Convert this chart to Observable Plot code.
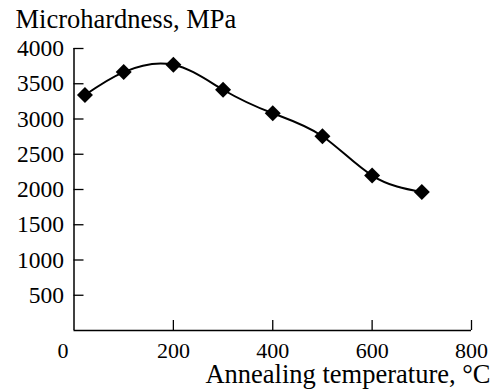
<!DOCTYPE html>
<html>
<head>
<meta charset="utf-8">
<script src="https://cdn.jsdelivr.net/npm/d3@7"></script>
<script src="https://cdn.jsdelivr.net/npm/@observablehq/plot@0.6"></script>
<style>
  html, body { margin: 0; padding: 0; background: #fff; }
  svg { font-family: "Liberation Serif", "DejaVu Serif", serif; }
</style>
</head>
<body>
<div id="chart"></div>
<script>
const temperature = [22, 100, 200, 300, 400, 500, 600, 700];
const hardness = [3340, 3666, 3770, 3415, 3081, 2756, 2198, 1963];
const xTicks = [200, 400, 600, 800];
const yTicks = [500, 1000, 1500, 2000, 2500, 3000, 3500, 4000];
const originLabel = ["0"];
const yTitle = ["Microhardness, MPa"];
const xTitle = ["Annealing temperature, °C"];

const data = temperature.map((t, i) => ({t, h: hardness[i]}));

const W = 494, H = 389;
const mL = 73.5, mR = 23, mT = 48, mB = 59;
const fw = W - mL - mR, fh = H - mT - mB;
const fsX = 22, fsY = 23.5, fsT = 26.5;

const chart = Plot.plot({
  width: W,
  height: H,
  marginLeft: mL,
  marginRight: mR,
  marginTop: mT,
  marginBottom: mB,
  style: {fontFamily: '"Liberation Serif", serif', fontSize: fsY + "px", color: "#000", background: "#fff", overflow: "visible"},
  x: {domain: [0, 800], axis: null},
  y: {domain: [0, 4000], axis: null},
  marks: [
    // axis lines
    Plot.ruleX([0], {y1: 0, y2: 4000, stroke: "#000", strokeWidth: 1.5}),
    Plot.ruleY([0], {x1: 0, x2: 800, stroke: "#000", strokeWidth: 1.5}),
    // inward ticks
    Plot.tickY(yTicks, {y: d => d, stroke: "#000", strokeWidth: 1.3, insetRight: fw - 10}),
    Plot.tickX(xTicks, {x: d => d, stroke: "#000", strokeWidth: 1.3, insetTop: fh - 10}),
    // tick labels
    Plot.axisY({ticks: yTicks, tickSize: 0, tickPadding: 10, label: null, fontSize: fsY, tickFormat: d => String(d)}),
    Plot.axisX({ticks: xTicks, tickSize: 0, tickPadding: 12, label: null, fontSize: fsX, tickFormat: d => String(d)}),
    Plot.text(originLabel, {x: 0, frameAnchor: "bottom", text: d => d, dx: -11, dy: 12, lineAnchor: "top", fontSize: fsX}),
    // titles
    Plot.text(yTitle, {frameAnchor: "top-left", text: d => d, textAnchor: "start", lineAnchor: "bottom", dx: 15 - mL, dy: 27 - mT, fontSize: fsT}),
    Plot.text(xTitle, {frameAnchor: "bottom-right", text: d => d, textAnchor: "end", lineAnchor: "bottom", dx: 490 - (W - mR), dy: 382 - (H - mB), fontSize: fsT}),
    // data
    Plot.line(data, {x: "t", y: "h", curve: "natural", stroke: "#000", strokeWidth: 2}),
    Plot.dot(data, {x: "t", y: "h", symbol: "diamond2", r: 7.2, fill: "#000", stroke: "none"})
  ]
});
document.getElementById("chart").appendChild(chart);
</script>
</body>
</html>
